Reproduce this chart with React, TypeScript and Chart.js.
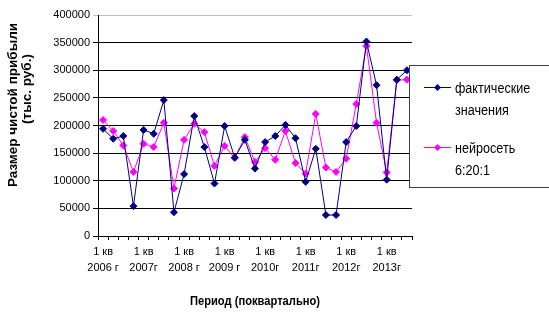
import React, { useEffect, useRef } from "react";
import { Chart, registerables } from "chart.js";

Chart.register(...registerables);

const FONT = "'Liberation Sans', Arial, sans-serif";

const years = ["2006 г", "2007г", "2008 г", "2009 г", "2010г", "2011г", "2012г", "2013г"];
const quarterLabel = "1 кв";

const actualValues = [
  194000, 176000, 181000, 54000, 192000, 185000, 246000, 43000,
  112000, 217000, 161000, 95000, 199000, 142000, 174000, 122000,
  170000, 181000, 201000, 177000, 98000, 158000, 38000, 38000,
  170000, 199000, 352000, 273000, 102000, 283000, 300000,
];

const neuralValues = [
  210000, 190000, 164000, 116000, 167000, 161000, 205000, 86000,
  174000, 203000, 188000, 127000, 163000, 141000, 179000, 134000,
  159000, 138000, 190000, 132000, 113000, 221000, 124000, 116000,
  140000, 239000, 344000, 205000, 115000, 282000, 283000,
];

const seriesNames = ["фактические значения", "нейросеть 6:20:1"];
const seriesLegendLines = [["фактические", "значения"], ["нейросеть", "6:20:1"]];
const seriesColors = ["#000080", "#ff00ff"];

const yTicks = { min: 0, max: 400000, step: 50000 };
const yTitleLines = ["Размер чистой прибыли", "(тыс. руб.)"];
const xTitle = "Период (поквартально)";

const categories: (string | string[])[] = actualValues.map((_, i) =>
  i % 4 === 0 ? [quarterLabel, years[i / 4]] : ""
);

function drawScaledText(ctx: CanvasRenderingContext2D, text: string, x: number, y: number, sx: number) {
  ctx.save();
  ctx.translate(x, y);
  ctx.scale(sx, 1);
  ctx.fillText(text, 0, 0);
  ctx.restore();
}

const titlesAndLegend = {
  id: "titlesAndLegend",
  afterDraw(chart: any) {
    const ctx = chart.ctx as CanvasRenderingContext2D;
    const area = chart.chartArea;
    ctx.save();
    // Y title
    ctx.fillStyle = "#000";
    ctx.font = `bold 13.5px ${FONT}`;
    ctx.textAlign = "center";
    ctx.textBaseline = "middle";
    ctx.save();
    ctx.translate(13, 105);
    ctx.rotate(-Math.PI / 2);
    ctx.fillText(yTitleLines[0], 0, 0);
    ctx.restore();
    ctx.save();
    ctx.translate(27, 89);
    ctx.rotate(-Math.PI / 2);
    ctx.fillText(yTitleLines[1], 0, 0);
    ctx.restore();
    // X title
    ctx.font = `bold 12px ${FONT}`;
    drawScaledText(ctx, xTitle, (area.left + area.right) / 2, 302, 0.93);
    // Legend
    const lx = 409.5, ly = 65.5, lw = 150, lh = 122;
    ctx.fillStyle = "#fff";
    ctx.fillRect(lx, ly, lw, lh);
    ctx.strokeStyle = "#404040";
    ctx.lineWidth = 1;
    ctx.strokeRect(lx, ly, lw, lh);
    const rows = [87, 147];
    chart.data.datasets.forEach((ds: any, i: number) => {
      const y = rows[i];
      ctx.strokeStyle = ds.borderColor;
      ctx.lineWidth = 1;
      ctx.beginPath();
      ctx.moveTo(424, y + 0.5);
      ctx.lineTo(451, y + 0.5);
      ctx.stroke();
      ctx.fillStyle = ds.backgroundColor;
      ctx.beginPath();
      ctx.moveTo(437.5, y + 0.5 - 3.5);
      ctx.lineTo(441, y + 0.5);
      ctx.lineTo(437.5, y + 0.5 + 3.5);
      ctx.lineTo(434, y + 0.5);
      ctx.closePath();
      ctx.fill();
      ctx.fillStyle = "#000";
      ctx.font = `14px ${FONT}`;
      ctx.textAlign = "left";
      ctx.textBaseline = "middle";
      seriesLegendLines[i].forEach((t, j) => drawScaledText(ctx, t, 455, y + 2 + j * 22, 0.9));
    });
    ctx.restore();
  },
};

export default function App() {
  const ref = useRef<HTMLCanvasElement>(null);
  useEffect(() => {
    document.body.style.margin = "0";
    Chart.defaults.font.family = FONT;
    const chart = new Chart(ref.current!, {
      type: "line",
      data: {
        labels: categories,
        datasets: [actualValues, neuralValues].map((d, i) => ({
          label: seriesNames[i],
          data: d,
          borderColor: seriesColors[i],
          backgroundColor: seriesColors[i],
          borderWidth: 1,
          pointStyle: "rectRot",
          pointRadius: 3.5,
          pointBorderWidth: 1,
          tension: 0,
        })),
      },
      options: {
        animation: false,
        responsive: false,
        layout: { padding: { top: 15, right: 137, left: 0, bottom: 0 } },
        plugins: { legend: { display: false }, tooltip: { enabled: false } },
        scales: {
          x: {
            type: "category",
            offset: true,
            grid: { offset: true, drawOnChartArea: false, drawTicks: true, tickLength: 4, color: "#000" },
            border: { color: "#000" },
            ticks: {
              autoSkip: false,
              maxRotation: 0,
              minRotation: 0,
              padding: 4,
              color: "#000",
              font: { size: 11, lineHeight: 1.45 },
            },
            afterFit: (s: any) => { s.height = 80; },
          },
          y: {
            min: yTicks.min,
            max: yTicks.max,
            grid: {
              color: (c: any) => (c.tick && c.tick.value === yTicks.max ? "#c0c0c0" : "#000"),
              tickLength: 5,
            },
            border: { color: "#000" },
            ticks: {
              stepSize: yTicks.step,
              padding: 3,
              color: "#000",
              font: { size: 11 },
              callback: (v: any) => String(v),
            },
            afterFit: (s: any) => { s.width = 98; },
          },
        },
      },
      plugins: [titlesAndLegend],
    } as any);
    return () => chart.destroy();
  }, []);
  return (
    <div style={{ width: 549, height: 316 }}>
      <canvas ref={ref} width={549} height={316} />
    </div>
  );
}
